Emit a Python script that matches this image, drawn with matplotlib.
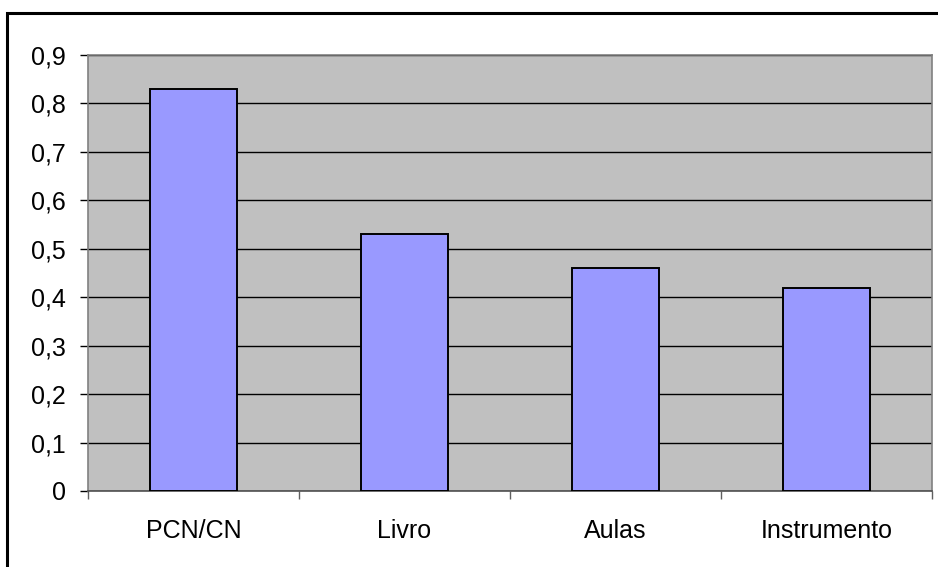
import matplotlib
matplotlib.use("Agg")
import matplotlib.pyplot as plt
from matplotlib.patches import Rectangle
from matplotlib.ticker import FixedLocator, FuncFormatter

categories = ["PCN/CN", "Livro", "Aulas", "Instrumento"]
values = [0.83, 0.53, 0.46, 0.42]
yticks = [0, 0.1, 0.2, 0.3, 0.4, 0.5, 0.6, 0.7, 0.8, 0.9]

plt.rcParams["font.family"] = ["Liberation Sans", "DejaVu Sans"]

W, H = 938, 567
fig = plt.figure(figsize=(W / 100, H / 100), dpi=100)
fig.patch.set_facecolor("white")

# outer chart border (top and left visible)
fig.patches.append(Rectangle((7 / W, -0.2), 1.2, 1.2 - 13 / H + 0.0,
                             transform=fig.transFigure, fill=False,
                             edgecolor="black", linewidth=2.2, zorder=0))

left, right, top, bottom = 88, 932, 55, 491
ax = fig.add_axes([left / W, (H - bottom) / H, (right - left) / W, (bottom - top) / H])
ax.set_facecolor("#C0C0C0")

x = list(range(len(categories)))
ax.bar(x, values, width=0.41, color="#9999FF", edgecolor="black", linewidth=1.4, zorder=3)

ax.set_xlim(-0.5, len(categories) - 0.5)
ax.set_ylim(0, 0.9)
ax.set_yticks(yticks)
ax.yaxis.set_major_formatter(FuncFormatter(lambda v, p: ("%g" % round(v, 1)).replace(".", ",")))
ax.yaxis.grid(True, color="black", linewidth=1.0, zorder=1)
ax.set_axisbelow(True)

ax.set_xticks(x)
ax.set_xticklabels(categories)
ax.xaxis.set_minor_locator(FixedLocator([i - 0.5 for i in range(len(categories) + 1)]))
ax.tick_params(axis="x", which="major", length=0, pad=20, labelsize=18)
ax.tick_params(axis="x", which="minor", length=6, width=1.0, color="#606060")
ax.tick_params(axis="y", length=6, width=1.0, color="black", pad=10, labelsize=18)

for s in ax.spines.values():
    s.set_color("#808080")
    s.set_linewidth(1.2)
ax.spines["bottom"].set_color("#505050")

fig.savefig("out.png", dpi=100)
